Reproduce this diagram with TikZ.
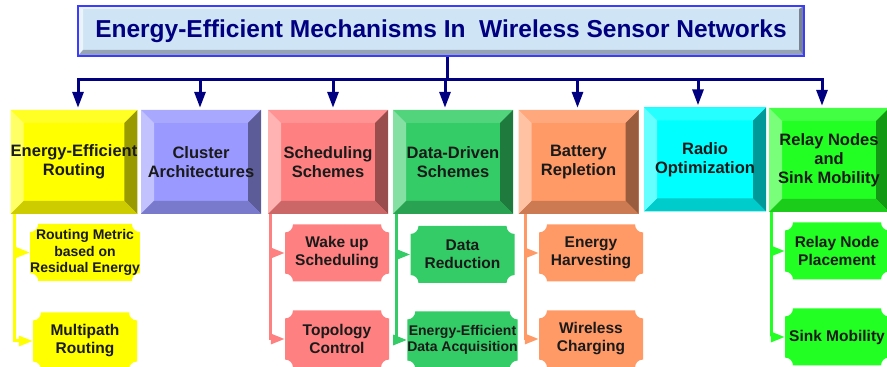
\documentclass[tikz,border=0pt]{standalone}
\usepackage{fontspec}
\setmainfont{Liberation Sans}
\usetikzlibrary{arrows.meta, positioning, calc}
\definecolor{myNavy}{RGB}{0, 0, 128}
\definecolor{myTitleFill}{RGB}{207, 228, 245}
\definecolor{myTitleLine}{RGB}{60, 60, 255}
\definecolor{myTitleShade}{RGB}{150, 162, 182}
\definecolor{myText}{RGB}{26, 26, 26}
\definecolor{myYellow}{RGB}{255, 255, 0}
\definecolor{myBlue}{RGB}{153, 153, 255}
\definecolor{myRed}{RGB}{255, 128, 128}
\definecolor{myGreen}{RGB}{51, 204, 102}
\definecolor{myOrange}{RGB}{255, 153, 102}
\definecolor{myCyan}{RGB}{0, 255, 255}
\definecolor{myLime}{RGB}{34, 255, 34}

\begin{document}
\begin{tikzpicture}[x=1pt, y=1pt,
    % --- node styles ---
    % 1. title bar with a thin bevel
    titlebox/.style={draw=myTitleLine, line width=1.2pt, fill=myTitleFill, minimum width=726pt, minimum height=50pt, inner sep=0pt, text=myNavy, font=\fontsize{24.5}{28}\selectfont\bfseries,
      path picture={
        \coordinate (nw) at (path picture bounding box.north west);
        \coordinate (ne) at (path picture bounding box.north east);
        \coordinate (sw) at (path picture bounding box.south west);
        \coordinate (se) at (path picture bounding box.south east);
        \fill[myTitleFill!50!white] (nw) -- (ne) -- ([shift={(-5pt,-3pt)}]ne) -- ([shift={(5pt,-3pt)}]nw) -- cycle;
        \fill[myTitleFill!40!white] (nw) -- ([shift={(5pt,-3pt)}]nw) -- ([shift={(5pt,6pt)}]sw) -- (sw) -- cycle;
        \fill[myTitleShade!80!black] (ne) -- ([shift={(-5pt,-3pt)}]ne) -- ([shift={(-5pt,6pt)}]se) -- (se) -- cycle;
        \fill[myTitleShade] (sw) -- ([shift={(5pt,6pt)}]sw) -- ([shift={(-5pt,6pt)}]se) -- (se) -- cycle;
      }},
    % 2. bevelled category boxes
    mainbox/.style={minimum width=120pt, minimum height=104pt, inner sep=0pt, align=center, fill=#1, text=myText, font=\fontsize{16.5}{19}\selectfont\bfseries,
      path picture={
        \coordinate (nw) at (path picture bounding box.north west);
        \coordinate (ne) at (path picture bounding box.north east);
        \coordinate (sw) at (path picture bounding box.south west);
        \coordinate (se) at (path picture bounding box.south east);
        \fill[#1!85!white] (nw) -- (ne) -- ([shift={(-13pt,-13pt)}]ne) -- ([shift={(13pt,-13pt)}]nw) -- cycle;
        \fill[#1!60!white] (nw) -- ([shift={(13pt,-13pt)}]nw) -- ([shift={(13pt,13pt)}]sw) -- (sw) -- cycle;
        \fill[#1!60!black] (ne) -- ([shift={(-13pt,-13pt)}]ne) -- ([shift={(-13pt,13pt)}]se) -- (se) -- cycle;
        \fill[#1!80!black] (sw) -- ([shift={(13pt,13pt)}]sw) -- ([shift={(-13pt,13pt)}]se) -- (se) -- cycle;
      }},
    % 3. sub boxes with scooped corners
    subbox/.style={minimum width=104pt, minimum height=57pt, inner sep=0pt, align=center, text=myText, font=\fontsize{15.5}{18}\selectfont\bfseries,
      path picture={
        \fill[#1] ([xshift=8pt]path picture bounding box.north west) -- ([xshift=-8pt]path picture bounding box.north east)
          arc[start angle=180, end angle=270, radius=8pt] -- ([yshift=8pt]path picture bounding box.south east)
          arc[start angle=90, end angle=180, radius=8pt] -- ([xshift=8pt]path picture bounding box.south west)
          arc[start angle=0, end angle=90, radius=8pt] -- ([yshift=-8pt]path picture bounding box.north west)
          arc[start angle=270, end angle=360, radius=8pt] -- cycle;
      }},
    smalltext/.style={font=\fontsize{14}{16.5}\selectfont\bfseries},
    % --- connector styles ---
    busline/.style={draw=myNavy, line width=3pt},
    busarrow/.style={busline, -{Triangle[length=16pt, width=11pt]}, shorten >=2pt},
    subline/.style={draw=#1, line width=3pt, -{Triangle[length=14pt, width=10pt]}}
]
\useasboundingbox (0,0) rectangle (887,367);

% === title ===
\node[titlebox] (title) at (441, 336) {Energy-Efficient Mechanisms In\ \ Wireless Sensor Networks};

% === categories ===
\node[mainbox=myYellow] (routing) at (74, 205) {Energy-Efficient\\Routing};
\node[mainbox=myBlue] (cluster) at (201, 205) {Cluster\\Architectures};
\node[mainbox=myRed] (sched) at (328, 205) {Scheduling\\Schemes};
\node[mainbox=myGreen] (datadrv) at (453, 205) {Data-Driven\\Schemes};
\node[mainbox=myOrange] (battery) at (578.5, 205) {Battery\\Repletion};
\node[mainbox=myCyan, minimum width=122pt] (radio) at (705, 207.5) {Radio\\Optimization};
\node[mainbox=myLime] (relay) at (829, 207) {Relay Nodes\\and\\Sink Mobility};

% === bus from the title ===
\coordinate (bus) at (447, 287);
\draw[busline] (title.south -| bus) -- (bus);
\draw[busarrow] (bus) -| ([xshift=4pt]routing.north);
\draw[busarrow] (bus) -| ([xshift=-1pt]cluster.north);
\draw[busarrow] (bus) -| ([xshift=5pt]sched.north);
\draw[busarrow] (bus) -| ([xshift=-8pt]datadrv.north);
\draw[busarrow] (bus) -| ([xshift=-1pt]battery.north);
\draw[busarrow] (bus) -| ([xshift=-7pt]radio.north);
\draw[busarrow] (bus) -| ([xshift=-7pt]relay.north);

% === sub mechanisms ===
\node[subbox=myYellow, smalltext] (metric) at (85, 114.5) {Routing Metric\\based on\\Residual Energy};
\node[subbox=myYellow] (multipath) at (85, 26) {Multipath\\Routing};
\node[subbox=myRed] (wakeup) at (337, 114) {Wake up\\Scheduling};
\node[subbox=myRed] (topology) at (337, 28) {Topology\\Control};
\node[subbox=myGreen] (reduction) at (462.5, 112.5) {Data\\Reduction};
\node[subbox=myGreen, smalltext] (acquisition) at (462.5, 27) {Energy-Efficient\\Data Acquisition};
\node[subbox=myOrange] (harvest) at (591, 114) {Energy\\Harvesting};
\node[subbox=myOrange] (charging) at (591, 28) {Wireless\\Charging};
\node[subbox=myLime] (placement) at (837, 116) {Relay Node\\Placement};
\node[subbox=myLime] (sinkmob) at (837, 30) {Sink Mobility};

% side rails into the sub boxes
\draw[subline=myYellow] ([xshift=4pt]routing.south west) |- (metric.west);
\draw[subline=myYellow] ([xshift=4pt]routing.south west) |- (multipath.west);
\draw[subline=myRed] ([xshift=3pt]sched.south west) |- (wakeup.west);
\draw[subline=myRed] ([xshift=3pt]sched.south west) |- (topology.west);
\draw[subline=myGreen] ([xshift=4pt]datadrv.south west) |- (reduction.west);
\draw[subline=myGreen] ([xshift=4pt]datadrv.south west) |- (acquisition.west);
\draw[subline=myOrange] ([xshift=7pt]battery.south west) |- (harvest.west);
\draw[subline=myOrange] ([xshift=7pt]battery.south west) |- (charging.west);
\draw[subline=myLime] ([xshift=3pt]relay.south west) |- (placement.west);
\draw[subline=myLime] ([xshift=3pt]relay.south west) |- (sinkmob.west);

\end{tikzpicture}
\end{document}
